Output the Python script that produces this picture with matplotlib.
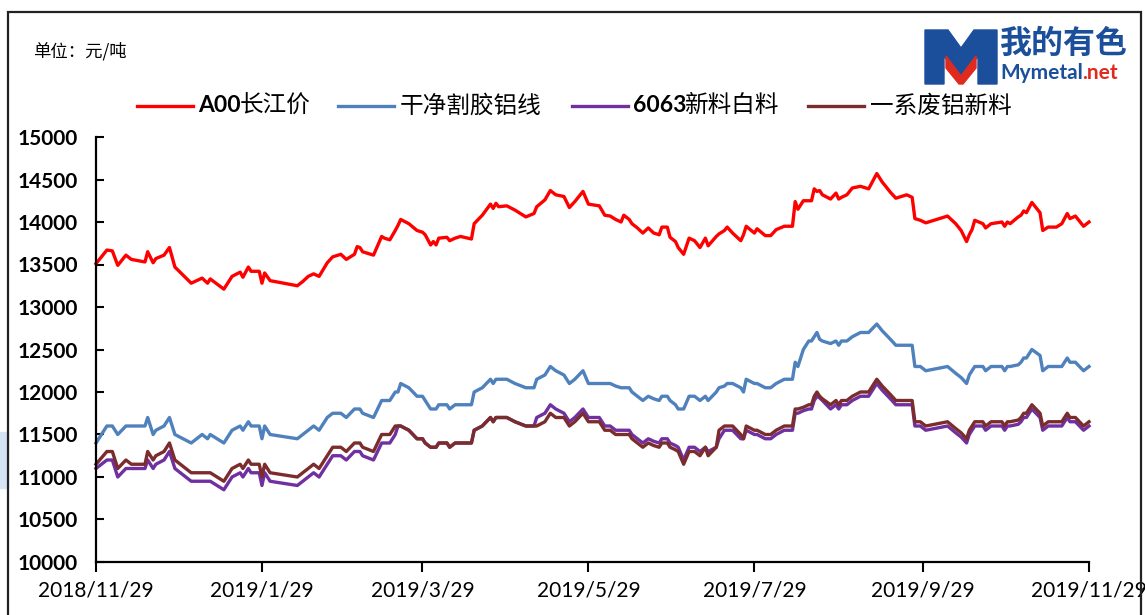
import matplotlib
matplotlib.use("Agg")
import matplotlib.pyplot as plt
import pandas as pd
from matplotlib.lines import Line2D
from matplotlib.patches import Polygon, Rectangle

# ---- data (days after 2018/11/29, 元/吨) ----
start = pd.Timestamp("2018-11-29")
days = [0, 4, 6, 8, 11, 13, 18, 19, 21, 22, 25, 27, 29, 35, 39, 41, 42, 47, 50, 53,
        54, 56, 57, 60, 61, 62, 64, 74, 76, 78, 80, 82, 85, 87, 90, 92, 95, 96, 97, 98,
        102, 105, 106, 108, 110, 111, 112, 115, 118, 120, 121, 123, 124, 125, 126, 129, 130, 132, 134, 138,
        139, 142, 145, 146, 147, 148, 151, 154, 158, 161, 162, 165, 167, 169, 172, 174, 176, 179, 181, 185,
        187, 189, 191, 193, 194, 196, 197, 199, 201, 203, 205, 207, 208, 210, 211, 213, 214, 216, 218, 220,
        222, 224, 225, 228, 229, 231, 232, 234, 237, 238, 239, 242, 243, 246, 248, 250, 253, 256, 257, 258,
        260, 262, 263, 264, 265, 266, 267, 270, 272, 273, 274, 276, 278, 281, 284, 287, 289, 292, 294, 296,
        298, 300, 301, 303, 305, 313, 316, 318, 320, 321, 322, 323, 326, 327, 329, 333, 334, 335, 336, 339,
        340, 341, 342, 344, 347, 348, 350, 353, 355, 357, 358, 360, 363, 365]

a00 = [13510, 13670, 13660, 13490, 13610, 13560, 13530, 13650, 13520, 13570, 13610, 13700, 13470, 13280, 13340, 13280, 13330, 13210, 13360, 13410,
       13350, 13470, 13420, 13420, 13280, 13400, 13310, 13250, 13300, 13360, 13390, 13360, 13520, 13590, 13620, 13560, 13620, 13710, 13700, 13650,
       13610, 13830, 13810, 13790, 13900, 13960, 14030, 13980, 13900, 13880, 13850, 13730, 13770, 13730, 13810, 13820, 13780, 13810, 13830, 13800,
       13980, 14080, 14210, 14160, 14220, 14180, 14190, 14140, 14060, 14100, 14180, 14260, 14370, 14320, 14300, 14170, 14240, 14360, 14210, 14190,
       14080, 14070, 14030, 14000, 14080, 14030, 13980, 13930, 13870, 13930, 13870, 13850, 13940, 13940, 13820, 13770, 13700, 13620, 13810, 13780,
       13700, 13810, 13720, 13830, 13860, 13900, 13940, 13870, 13780, 13850, 13950, 13870, 13920, 13840, 13840, 13910, 13950, 13950, 14240, 14150,
       14250, 14250, 14250, 14390, 14360, 14370, 14320, 14270, 14340, 14270, 14290, 14320, 14400, 14420, 14390, 14570, 14470, 14350, 14280, 14300,
       14320, 14290, 14040, 14020, 13990, 14070, 13980, 13900, 13770, 13850, 13910, 14020, 13980, 13930, 13980, 14000, 13950, 14000, 13980, 14060,
       14080, 14130, 14110, 14230, 14110, 13900, 13940, 13940, 13980, 14100, 14040, 14070, 13950, 14000]

wire = [11400, 11600, 11600, 11500, 11600, 11600, 11600, 11700, 11500, 11550, 11600, 11700, 11500, 11400, 11500, 11450, 11500, 11400, 11550, 11600,
        11550, 11650, 11600, 11600, 11450, 11600, 11500, 11450, 11500, 11550, 11600, 11550, 11700, 11750, 11750, 11700, 11800, 11800, 11800, 11750,
        11700, 11900, 11900, 11900, 12000, 12000, 12100, 12050, 11950, 11950, 11900, 11800, 11800, 11800, 11850, 11850, 11800, 11850, 11850, 11850,
        12000, 12050, 12150, 12100, 12150, 12150, 12150, 12100, 12050, 12050, 12150, 12200, 12300, 12250, 12200, 12100, 12150, 12250, 12100, 12100,
        12100, 12100, 12070, 12050, 12050, 12050, 12000, 11950, 11900, 11950, 11920, 11900, 11950, 11950, 11900, 11850, 11800, 11800, 11950, 11950,
        11900, 11950, 11900, 12000, 12050, 12070, 12100, 12100, 12050, 12000, 12150, 12100, 12100, 12050, 12050, 12100, 12150, 12150, 12350, 12300,
        12500, 12600, 12600, 12650, 12700, 12620, 12600, 12570, 12600, 12550, 12600, 12600, 12650, 12700, 12700, 12800, 12720, 12620, 12550, 12550,
        12550, 12550, 12300, 12300, 12250, 12300, 12220, 12170, 12100, 12200, 12250, 12300, 12300, 12250, 12300, 12300, 12250, 12300, 12300, 12320,
        12350, 12400, 12400, 12500, 12430, 12250, 12300, 12300, 12300, 12400, 12350, 12350, 12250, 12300]

al6063 = [11100, 11200, 11200, 11000, 11100, 11100, 11100, 11200, 11100, 11150, 11200, 11300, 11100, 10950, 10950, 10950, 10950, 10850, 11000, 11050,
          11000, 11100, 11050, 11050, 10900, 11050, 10950, 10900, 10950, 11000, 11050, 11000, 11150, 11250, 11250, 11200, 11300, 11300, 11300, 11250,
          11200, 11400, 11400, 11400, 11500, 11600, 11600, 11550, 11450, 11450, 11400, 11350, 11350, 11350, 11400, 11400, 11350, 11400, 11400, 11400,
          11550, 11600, 11700, 11650, 11700, 11700, 11700, 11650, 11600, 11600, 11700, 11750, 11850, 11800, 11750, 11650, 11700, 11800, 11700, 11700,
          11600, 11600, 11550, 11550, 11550, 11550, 11500, 11450, 11400, 11450, 11420, 11400, 11450, 11450, 11400, 11370, 11350, 11200, 11350, 11350,
          11300, 11350, 11300, 11350, 11450, 11550, 11550, 11550, 11450, 11450, 11550, 11500, 11500, 11450, 11450, 11500, 11550, 11550, 11750, 11750,
          11780, 11800, 11800, 11900, 11950, 11930, 11900, 11800, 11850, 11800, 11850, 11850, 11900, 11950, 11950, 12100, 12020, 11920, 11850, 11850,
          11850, 11850, 11600, 11600, 11550, 11600, 11520, 11470, 11400, 11500, 11550, 11600, 11600, 11550, 11600, 11600, 11550, 11600, 11600, 11620,
          11650, 11700, 11700, 11800, 11700, 11550, 11600, 11600, 11600, 11700, 11650, 11650, 11550, 11600]

scrap = [11150, 11300, 11300, 11100, 11200, 11150, 11150, 11300, 11200, 11250, 11300, 11400, 11200, 11050, 11050, 11050, 11050, 10950, 11100, 11150,
         11100, 11200, 11150, 11150, 11000, 11150, 11050, 11000, 11050, 11100, 11150, 11100, 11250, 11350, 11350, 11300, 11400, 11400, 11400, 11350,
         11300, 11500, 11500, 11500, 11600, 11600, 11600, 11550, 11450, 11450, 11400, 11350, 11350, 11350, 11400, 11400, 11350, 11400, 11400, 11400,
         11550, 11600, 11700, 11650, 11700, 11700, 11700, 11650, 11600, 11600, 11600, 11650, 11750, 11700, 11700, 11600, 11650, 11750, 11650, 11650,
         11550, 11550, 11500, 11500, 11500, 11500, 11450, 11400, 11350, 11400, 11370, 11350, 11400, 11400, 11350, 11320, 11300, 11150, 11300, 11300,
         11250, 11350, 11250, 11350, 11550, 11600, 11600, 11600, 11500, 11450, 11600, 11550, 11550, 11500, 11500, 11550, 11600, 11600, 11800, 11800,
         11820, 11850, 11850, 11950, 12000, 11950, 11920, 11850, 11900, 11850, 11900, 11900, 11950, 12000, 12000, 12150, 12070, 11970, 11900, 11900,
         11900, 11900, 11650, 11650, 11600, 11650, 11570, 11520, 11450, 11550, 11600, 11650, 11650, 11600, 11650, 11650, 11600, 11650, 11650, 11670,
         11700, 11750, 11750, 11850, 11750, 11600, 11650, 11650, 11650, 11750, 11700, 11700, 11600, 11650]

labels = [("A00", "长江价"), ("", "干净割胶铝线"), ("6063", "新料白料"), ("", "一系废铝新料")]
colors = ["#FF0000", "#4F81BD", "#7030A0", "#7B2C2C"]
tick_dates = ["2018/11/29", "2019/1/29", "2019/3/29", "2019/5/29",
              "2019/7/29", "2019/9/29", "2019/11/29"]
y_ticks = list(range(10000, 15001, 500))

W, H = 1145, 615


def px(x, y):
    """pixel position (origin top-left) -> figure fraction"""
    return x / W, 1 - y / H


cjk = ["Noto Sans CJK SC", "DejaVu Sans"]
num = ["Lato", "DejaVu Sans"]

fig = plt.figure(figsize=(W / 100, H / 100), dpi=100)
ax = fig.add_axes([96 / W, 1 - 562 / H, (1089 - 96) / W, (562 - 137) / H])

dates = start + pd.to_timedelta(days, unit="D")
for vals, c in zip([a00, wire, al6063, scrap], colors):
    ax.plot(dates, vals, color=c, lw=2.4, solid_joinstyle="round", clip_on=False)

ax.set_xlim(start, pd.Timestamp("2019-11-29"))
ax.set_ylim(10000, 15000)
ax.set_yticks(y_ticks)
ax.set_yticklabels([str(v) for v in y_ticks], fontfamily=num, fontweight="bold", fontsize=15)
ax.set_xticks(pd.to_datetime(tick_dates))
ax.set_xticklabels(tick_dates, fontfamily=num, fontsize=15)
ax.tick_params(axis="y", direction="in", length=6, width=1.5, pad=13)
ax.tick_params(axis="x", direction="out", length=7, width=1.5, pad=6)
for s in ("top", "right"):
    ax.spines[s].set_visible(False)
for s in ("left", "bottom"):
    ax.spines[s].set_linewidth(1.6)

# unit label
fig.text(*px(33, 51), "单位：元/吨", fontfamily=cjk, fontsize=12.5, va="center")

# legend, drawn by hand so the numeric prefix can be bold
leg_pos = [(137, 198, 240), (338, 400, 400), (572, 633, 684), (808, 870, 870)]
for (lx, tx, cx), (pre, txt), c in zip(leg_pos, labels, colors):
    x0, yy = px(lx, 106)
    x1, _ = px(lx + 56, 106)
    fig.add_artist(Line2D([x0, x1], [yy, yy], color=c, lw=2.4))
    if pre:
        fig.text(px(tx, 0)[0], yy, pre, fontfamily=num, fontweight="bold",
                 fontsize=16.5, va="center")
    fig.text(px(cx, 0)[0], yy, txt, fontfamily=cjk, fontsize=17, va="center")

# logo
blue_m = [(925, 30), (948, 30), (961, 48), (974, 30), (997, 30), (997, 84), (978, 84),
          (978, 56), (961, 80), (944, 56), (944, 84), (925, 84)]
red_v = [(946, 56), (961, 76), (976, 56), (976, 68), (963, 84), (959, 84), (946, 68)]
fig.add_artist(Polygon([px(*p) for p in blue_m], closed=True, color="#1B4F9C",
                       transform=fig.transFigure))
fig.add_artist(Polygon([px(*p) for p in red_v], closed=True, color="#E02A20",
                       transform=fig.transFigure))
fig.text(*px(1000, 44), "我的有色", fontfamily=cjk, fontweight="bold", fontsize=23,
         color="#1B4F9C", va="center")
fig.text(*px(1000, 73), "Mymetal", fontfamily=num, fontweight="bold", fontsize=15,
         color="#1B4F9C", va="center")
fig.text(*px(1082, 73), ".net", fontfamily=num, fontweight="bold", fontsize=15,
         color="#E02A20", va="center")

# faint blue scrap at left edge and outer frame
fig.add_artist(Rectangle(px(0, 488), 8 / W, 56 / H, color="#D5E3F5",
                         transform=fig.transFigure))
fig.add_artist(Rectangle(px(8, 640), (1141 - 8) / W, (640 - 12) / H, fill=False,
                         edgecolor="#222222", lw=1.6, transform=fig.transFigure,
                         zorder=10))

fig.savefig("out.png", dpi=100)
